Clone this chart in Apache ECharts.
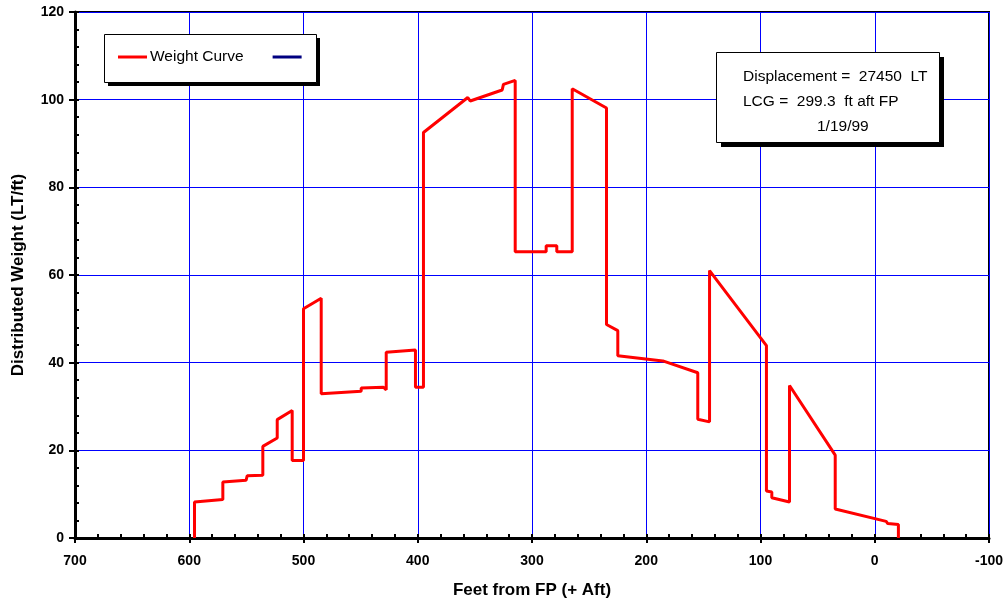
<!DOCTYPE html>
<html>
<head>
<meta charset="utf-8">
<script src="https://cdn.jsdelivr.net/npm/echarts@6/dist/echarts.min.js"></script>
<style>
html,body{margin:0;padding:0;background:#fff;}
#chart{width:1008px;height:604px;}
</style>
</head>
<body>
<div id="chart"></div>
<script>
// Feet from FP (+ Aft) along the weight curve, in drawing order
var feet = [595.4, 595.4, 570.6, 570.6, 550.2, 549.3, 535.6, 535.6, 523.0, 523.0,
  509.9, 509.9, 500.0, 500.0, 484.5, 484.5, 449.5, 449.5, 430.0, 427.6,
  427.6, 402.0, 402.0, 395.0, 395.0, 356.2, 354.1, 326.1, 325.0, 314.7,
  314.7, 287.6, 287.6, 278.3, 278.3, 264.8, 264.8, 234.8, 234.8, 224.9,
  224.9, 185.5, 154.9, 154.9, 144.6, 144.6, 94.8, 94.8, 90.1, 90.1,
  74.6, 74.6, 34.6, 34.6, -10.0, -11.4, -20.7, -20.7];
// Distributed weight (LT/ft)
var weight = [0, 8.2, 8.8, 12.8, 13.2, 14.2, 14.3, 20.9, 22.8, 27.0,
  29.1, 17.7, 17.7, 52.3, 54.7, 32.9, 33.5, 34.2, 34.4, 33.8,
  42.4, 42.9, 34.4, 34.4, 92.5, 100.5, 99.7, 102.2, 103.5, 104.4,
  65.3, 65.3, 66.7, 66.7, 65.3, 65.3, 102.5, 98.1, 48.7, 47.3,
  41.6, 40.4, 37.7, 27.1, 26.5, 61.0, 43.9, 10.7, 10.5, 9.2,
  8.2, 34.8, 18.9, 6.6, 3.8, 3.3, 3.1, 0];

var seriesNames = ['Weight Curve', ' '];
var infoLines = ['Displacement =  27450  LT', 'LCG =  299.3  ft aft FP', '1/19/99'];

var xTitle = 'Feet from FP (+ Aft)';
var yTitle = 'Distributed Weight (LT/ft)';

var curve = feet.map(function (f, i) { return [f, weight[i]]; });

var FONT = '"Liberation Sans", Arial, sans-serif';
var chart = echarts.init(document.getElementById('chart'), null, {renderer: 'canvas'});

var option = {
  animation: false,
  backgroundColor: '#fff',
  grid: {left: 75, top: 12, width: 914, height: 528, show: true,
         borderColor: '#000', borderWidth: 2, backgroundColor: 'transparent'},
  legend: {
    left: 118, top: 49, padding: 0, itemGap: 29,
    itemWidth: 29, itemHeight: 3, z: 10,
    data: [{name: seriesNames[0], icon: 'rect'}, {name: seriesNames[1], icon: 'rect'}],
    textStyle: {fontFamily: FONT, fontSize: 15.5, color: '#000', padding: [0, 0, 0, -2]}
  },
  xAxis: [{
    type: 'value', inverse: true, min: -100, max: 700, interval: 100,
    name: xTitle, nameLocation: 'middle', nameGap: 44,
    nameTextStyle: {fontFamily: FONT, fontSize: 17, fontWeight: 'bold', color: '#000'},
    axisLine: {show: true, onZero: false, lineStyle: {color: '#000', width: 3}},
    axisTick: {show: true, inside: true, length: 4, lineStyle: {color: '#000', width: 2}},
    minorTick: {show: true, splitNumber: 5, length: 4, lineStyle: {color: '#000', width: 2}},
    axisLabel: {fontFamily: FONT, fontSize: 14, fontWeight: 'bold', color: '#000', margin: 16},
    splitLine: {show: true, lineStyle: {color: '#0000ff', width: 1}}
  }, {
    type: 'value', inverse: true, min: -100, max: 700, interval: 100, position: 'bottom',
    axisLine: {show: false, onZero: false}, axisLabel: {show: false}, splitLine: {show: false},
    axisTick: {show: true, inside: false, length: 5, lineStyle: {color: '#000', width: 2}}
  }],
  yAxis: [{
    type: 'value', min: 0, max: 120, interval: 20,
    name: yTitle, nameLocation: 'middle', nameGap: 48,
    nameTextStyle: {fontFamily: FONT, fontSize: 17, fontWeight: 'bold', color: '#000'},
    axisLine: {show: true, onZero: false, lineStyle: {color: '#000', width: 3}},
    axisTick: {show: true, inside: true, length: 4, lineStyle: {color: '#000', width: 2}},
    minorTick: {show: true, splitNumber: 5, length: 4, lineStyle: {color: '#000', width: 2}},
    axisLabel: {fontFamily: FONT, fontSize: 14, fontWeight: 'bold', color: '#000', margin: 11},
    splitLine: {show: true, lineStyle: {color: '#0000ff', width: 1}}
  }, {
    type: 'value', min: 0, max: 120, interval: 20, position: 'left',
    axisLine: {show: false, onZero: false}, axisLabel: {show: false}, splitLine: {show: false},
    axisTick: {show: true, inside: false, length: 6, lineStyle: {color: '#000', width: 2}}
  }],
  series: [{
    name: seriesNames[0], type: 'line', data: curve, showSymbol: false, symbol: 'none',
    color: '#ff0000', lineStyle: {color: '#ff0000', width: 3}, z: 3
  }, {
    name: seriesNames[1], type: 'line', data: [], showSymbol: false, symbol: 'none',
    color: '#000080', lineStyle: {color: '#000080', width: 3}
  }],
  graphic: [
    {type: 'rect', z: 5, shape: {x: 108, y: 38, width: 212, height: 48}, style: {fill: '#000'}},
    {type: 'rect', z: 6, shape: {x: 104.5, y: 34.5, width: 212, height: 48},
     style: {fill: '#fff', stroke: '#000', lineWidth: 1}},
    {type: 'rect', z: 5, shape: {x: 721, y: 57, width: 223, height: 90}, style: {fill: '#000'}},
    {type: 'rect', z: 6, shape: {x: 716.5, y: 52.5, width: 223, height: 90},
     style: {fill: '#fff', stroke: '#000', lineWidth: 1}},
    {type: 'text', z: 7, x: 743, y: 77, style: {text: infoLines[0], font: '15.5px ' + FONT, fill: '#000', verticalAlign: 'middle'}},
    {type: 'text', z: 7, x: 743, y: 102, style: {text: infoLines[1], font: '15.5px ' + FONT, fill: '#000', verticalAlign: 'middle'}},
    {type: 'text', z: 7, x: 817, y: 127, style: {text: infoLines[2], font: '15.5px ' + FONT, fill: '#000', verticalAlign: 'middle'}}
  ]
};
chart.setOption(option);
</script>
</body>
</html>
